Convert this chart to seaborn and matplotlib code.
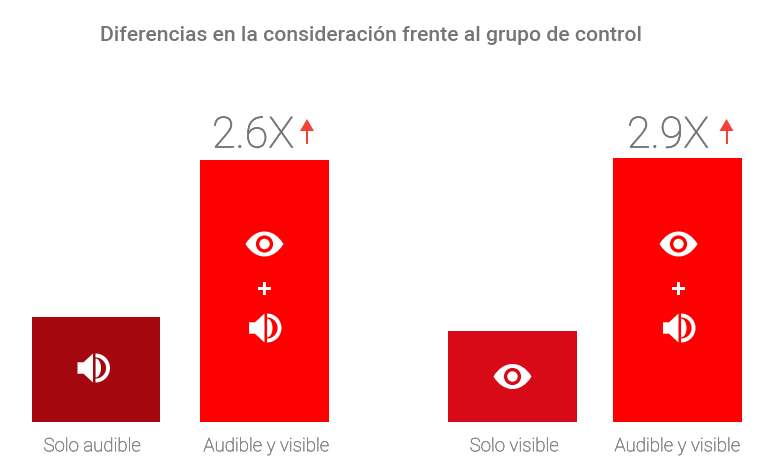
import numpy as np
import pandas as pd
import matplotlib
matplotlib.use("Agg")
import matplotlib.pyplot as plt
import matplotlib.patheffects as pe
from matplotlib.patches import Rectangle, Polygon, Wedge, Circle, PathPatch
from matplotlib.path import Path
import seaborn as sns

TITLE = "Diferencias en la consideración frente al grupo de control"
left_categories = ["Solo audible", "Audible y visible"]
left_values = [1.0, 2.5]
right_categories = ["Solo visible", "Audible y visible "]
right_values = [0.87, 2.52]
left_colors = ["#A50710", "#FF0000"]
right_colors = ["#D80A17", "#FF0000"]
multipliers = ["2.6X", "2.9X"]

W, H = 780, 473
TEXT_DARK = "#757575"
TEXT_TITLE = "#757575"
TEXT_LIGHT = "#858585"
ARROW = "#F44336"
BASE_Y = 422
UNIT_PX = 104.8

fig = plt.figure(figsize=(W / 100, H / 100), dpi=100, facecolor="white")
plt.rcParams["font.family"] = "Roboto"


def panel(x0, x1, cats, vals, colors, label_shift, bar_width):
    top = 60
    ax = fig.add_axes([x0 / W, 1 - BASE_Y / H, (x1 - x0) / W, (BASE_Y - top) / H])
    df = pd.DataFrame({"cat": cats, "val": vals})
    sns.barplot(data=df, x="cat", y="val", hue="cat", palette=colors, legend=False,
                width=bar_width, saturation=1, ax=ax)
    ax.set_xlim(-0.5, 1.5)
    ax.set_ylim(0, (BASE_Y - top) / UNIT_PX)
    ax.set_xlabel("")
    ax.set_ylabel("")
    ax.set_yticks([])
    spacing = (x1 - x0) / 2
    ax.set_xticks([i + s / spacing for i, s in enumerate(label_shift)])
    labels = ax.set_xticklabels([c.strip() for c in cats], fontsize=13.4, color=TEXT_LIGHT,
                                fontfamily="Roboto", fontweight="light")
    for lab in labels:
        lab.set_path_effects([pe.withStroke(linewidth=0.35, foreground=TEXT_LIGHT)])
    ax.tick_params(axis="x", length=0, pad=11)
    sns.despine(ax=ax, left=True, bottom=True, top=True, right=True)
    ax.patch.set_alpha(0)
    return ax


ax_l = panel(11.75, 348.75, left_categories, left_values, left_colors, [-4, 1.5], 0.765)
ax_r = panel(430, 760, right_categories, right_values, right_colors, [1.5, -0.5], 0.782)

ov = fig.add_axes([0, 0, 1, 1])
ov.set_xlim(0, W)
ov.set_ylim(H, 0)
ov.axis("off")
ov.patch.set_alpha(0)


def eye(cx, cy, ring):
    hw, hh = 19, 12.5
    c = hh / 0.75
    verts = [(cx - hw, cy), (cx - 9, cy - c), (cx + 9, cy - c), (cx + hw, cy),
             (cx + 9, cy + c), (cx - 9, cy + c), (cx - hw, cy)]
    codes = [Path.MOVETO, Path.CURVE4, Path.CURVE4, Path.CURVE4, Path.CURVE4, Path.CURVE4, Path.CURVE4]
    ov.add_patch(PathPatch(Path(verts, codes), fc="white", ec="none"))
    ov.add_patch(Circle((cx, cy), 8.6, fc=ring, ec="none"))
    ov.add_patch(Circle((cx, cy), 5.2, fc="white", ec="none"))


def speaker(cx, cy):
    ov.add_patch(Polygon([(cx - 15.5, cy - 5.7), (cx - 9.5, cy - 5.7), (cx, cy - 14.5),
                          (cx, cy + 14.5), (cx - 9.5, cy + 5.7), (cx - 15.5, cy + 5.7)],
                         fc="white", ec="none"))
    t = np.linspace(-np.pi / 2, np.pi / 2, 40)
    ov.add_patch(Polygon(np.c_[cx + 2.6 + 5.4 * np.cos(t), cy + 9.5 * np.sin(t)], fc="white", ec="none"))
    ov.add_patch(Wedge((cx + 2.5, cy), 14.5, -90, 90, width=3.9, fc="white", ec="none"))


def plus(cx, cy):
    ov.add_patch(Rectangle((cx - 6.2, cy - 1.9), 12.4, 3.8, fc="white", ec="none"))
    ov.add_patch(Rectangle((cx - 1.9, cy - 6.2), 3.8, 12.4, fc="white", ec="none"))


def arrow(cx, top, bottom):
    ov.add_patch(Polygon([(cx, top), (cx + 7, top + 12), (cx - 7, top + 12)], fc=ARROW, ec="none"))
    ov.add_patch(Rectangle((cx - 1, top + 11), 2, bottom - top - 11, fc=ARROW, ec="none"))


speaker(93, 368)
eye(264.5, 244, "#FF0000")
plus(264.5, 288.5)
speaker(264.5, 328)
eye(512.5, 376.5, "#D80A17")
eye(678.5, 244, "#FF0000")
plus(678.5, 288.5)
speaker(678.5, 328)

for x, label in zip([253, 668], multipliers):
    ov.text(x, 147.5, label, fontsize=31, color=TEXT_DARK, ha="center", va="baseline",
            fontfamily="Roboto", fontweight="light",
            path_effects=[pe.withStroke(linewidth=0.5, foreground=TEXT_DARK)])
arrow(307, 119, 144)
arrow(726.5, 119, 144)

ov.text(371, 35.5, TITLE, fontsize=15.2, color=TEXT_TITLE, ha="center", va="center",
        fontfamily="Roboto", fontweight="medium")

fig.savefig("out.png", dpi=100, facecolor="white")
